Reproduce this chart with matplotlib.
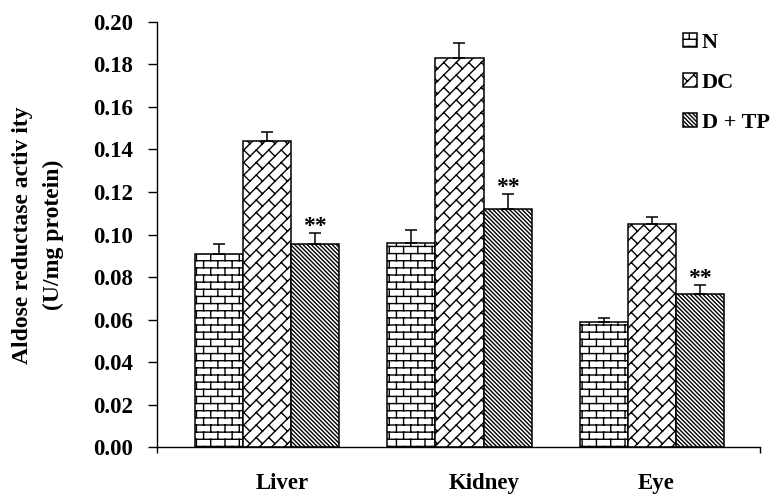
import numpy as np
import matplotlib
matplotlib.use("Agg")
import matplotlib.pyplot as plt
import matplotlib.hatch as mhatch
from matplotlib.path import Path

# data
tissues = ["Liver", "Kidney", "Eye"]
groups = ["N", "DC", "D + TP"]
n_vals = [0.091, 0.096, 0.059]
dc_vals = [0.144, 0.183, 0.105]
dtp_vals = [0.0955, 0.112, 0.072]
n_err = [0.0045, 0.006, 0.0018]
dc_err = [0.004, 0.007, 0.0034]
dtp_err = [0.0054, 0.007, 0.0044]
signif = ["**", "**", "**"]


class BrickHatch(mhatch.HatchPatternBase):
    """Horizontal brick wall, triggered by 'o' in the hatch string."""
    rows, cols = 14, 7

    def __init__(self, hatch, density):
        self.segs = self._segments() if 'o' in hatch else []
        self.num_vertices = 2 * len(self.segs)

    def _segments(self):
        segs = []
        for i in range(self.rows):
            y = (i + 0.5) / self.rows
            segs.append(((-0.1, y), (1.1, y)))
        for i in range(-1, self.rows + 1):
            y0, y1 = (i + 0.5) / self.rows, (i + 1.5) / self.rows
            off = 0.25 + 0.5 * (i % 2)
            for j in range(-1, self.cols + 1):
                xx = (j + off) / self.cols
                segs.append(((xx, y0), (xx, y1)))
        return segs

    def set_vertices_and_codes(self, vertices, codes):
        vertices[:] = np.array(self.segs, float).reshape(-1, 2)
        codes[0::2] = Path.MOVETO
        codes[1::2] = Path.LINETO


class DiagBrickHatch(BrickHatch):
    """Bricks laid along the '/' diagonal, triggered by 'O'."""
    n, m = 8, 8  # both even so the tile repeats

    def __init__(self, hatch, density):
        self.segs = self._segments() if 'O' in hatch else []
        self.num_vertices = 2 * len(self.segs)

    def _segments(self):
        n, m = self.n, self.m
        segs = []
        for k in range(-2 * n, 2 * n):
            c = (k + 0.5) / n
            segs.append(((-1.0, -1.0 + c), (2.0, 2.0 + c)))
            for j in range(-3 * m, 3 * m):
                a = (j + 0.5 * (k % 2)) / m - k * 0.5 / n
                p0 = (a, a + c)
                p1 = (a - 0.5 / n, a + c + 0.5 / n)
                if -0.2 < p0[0] < 1.2 and -0.2 < p0[1] < 1.2:
                    segs.append((p0, p1))
        return segs


types = mhatch._hatch_types
types[types.index(mhatch.SmallCircles)] = BrickHatch
types[types.index(mhatch.LargeCircles)] = DiagBrickHatch

plt.rcParams['font.family'] = 'Liberation Serif'
plt.rcParams['font.weight'] = 'bold'
plt.rcParams['hatch.linewidth'] = 1.0

fig = plt.figure(figsize=(7.79, 4.94), dpi=100)
ax = fig.add_axes([0.2015, 0.0951, 0.7741, 0.8604])

x = np.arange(len(tissues))
w = 0.25
series = [(n_vals, n_err, 'o'), (dc_vals, dc_err, 'O'), (dtp_vals, dtp_err, '\\' * 8)]
for i, (vals, err, h) in enumerate(series):
    pos = x + (i - 1) * w
    ax.bar(pos, vals, w, color='white', edgecolor='black', linewidth=1.1,
           hatch=h, label=groups[i], zorder=2)
    ax.errorbar(pos, vals, yerr=[np.zeros(len(vals)), err], fmt='none',
                ecolor='black', elinewidth=1.1, capsize=4.5, capthick=1.1, zorder=3)

# significance stars over D + TP
for xi, v, e, s in zip(x + w, dtp_vals, dtp_err, signif):
    ax.annotate(s, (xi, v + e), xytext=(0, -3), textcoords='offset points',
                ha='center', va='bottom', fontsize=17, fontweight='bold')

ax.set_ylim(0, 0.2)
ax.set_xlim(-0.571, 2.561)
ax.set_yticks(np.arange(0, 0.201, 0.02))
ax.set_yticklabels([f"{t:.2f}" for t in np.arange(0, 0.201, 0.02)], fontsize=16.5)
ax.tick_params(axis='y', direction='out', length=6.5, width=1.0, pad=11)
ax.set_xticks([-0.571, 2.561])
ax.set_xticklabels([])
ax.tick_params(axis='x', direction='out', length=4.5, width=1.0)
for side in ['top', 'right']:
    ax.spines[side].set_visible(False)
for side in ['left', 'bottom']:
    ax.spines[side].set_linewidth(1.0)

label_shift = [0.08, 0.13, 0.02]
for xi, name, dx in zip(x, tissues, label_shift):
    ax.text(xi + dx, -0.086, name, transform=ax.get_xaxis_transform(),
            ha='center', va='center', fontsize=16.5, fontweight='bold')

fig.text(38 / 779, 1 - 235 / 494, "Aldose reductase activ ity\n(U/mg protein)",
         rotation=90, ha='center', va='center', multialignment='center',
         fontsize=17, fontweight='bold', linespacing=1.6)

ax.legend(loc='upper left', bbox_to_anchor=(0.877, 0.933),
          bbox_transform=fig.transFigure, frameon=False, fontsize=16,
          handlelength=0.6, handleheight=0.6, handletextpad=0.25,
          labelspacing=0.9, borderpad=0, borderaxespad=0)

fig.savefig("out.png", dpi=100)
